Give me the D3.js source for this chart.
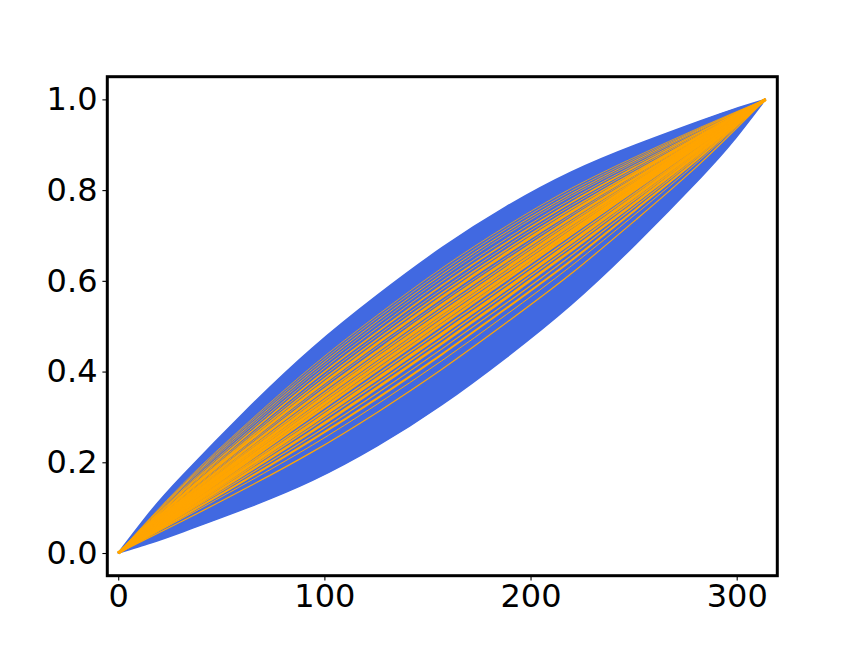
<!DOCTYPE html>
<html><head><meta charset="utf-8">
<script src="https://cdn.jsdelivr.net/npm/d3@7"></script>
<style>body{margin:0;background:#fff}svg{display:block}</style>
</head><body>
<script>
// envelope of the blue family of curves
const envX = [0, 15.7, 31.4, 62.8, 94.2, 125.6, 157, 188.4, 219.8, 251.2, 282.6, 298.3, 314];
const envUpper = [0, 0.092, 0.172, 0.318, 0.452, 0.568, 0.673, 0.764, 0.84, 0.9, 0.953, 0.978, 1.0];
const envLower = [0, 0.022, 0.047, 0.1, 0.16, 0.236, 0.327, 0.432, 0.548, 0.682, 0.828, 0.908, 1.0];

// orange curves sampled at these x positions
const orangeX = [0, 31.4, 62.8, 94.2, 125.6, 157, 188.4, 219.8, 251.2, 282.6, 314];
const orangeCurves = [
  [0, 0.153, 0.287, 0.412, 0.524, 0.628, 0.721, 0.804, 0.874, 0.939, 1],
  [0, 0.150, 0.283, 0.406, 0.518, 0.621, 0.715, 0.798, 0.870, 0.937, 1],
  [0, 0.148, 0.278, 0.400, 0.511, 0.614, 0.708, 0.792, 0.866, 0.935, 1],
  [0, 0.145, 0.273, 0.394, 0.504, 0.607, 0.702, 0.787, 0.862, 0.933, 1],
  [0, 0.141, 0.267, 0.387, 0.496, 0.599, 0.693, 0.780, 0.857, 0.930, 1],
  [0, 0.137, 0.261, 0.379, 0.487, 0.590, 0.685, 0.773, 0.852, 0.928, 1],
  [0, 0.134, 0.255, 0.371, 0.479, 0.581, 0.677, 0.766, 0.847, 0.925, 1],
  [0, 0.130, 0.250, 0.364, 0.471, 0.573, 0.669, 0.759, 0.842, 0.922, 1],
  [0, 0.127, 0.244, 0.356, 0.462, 0.564, 0.661, 0.752, 0.837, 0.920, 1],
  [0, 0.123, 0.238, 0.349, 0.454, 0.555, 0.652, 0.745, 0.832, 0.917, 1],
  [0, 0.119, 0.232, 0.341, 0.445, 0.547, 0.644, 0.738, 0.827, 0.914, 1],
  [0, 0.116, 0.226, 0.333, 0.437, 0.538, 0.636, 0.731, 0.822, 0.912, 1],
  [0, 0.112, 0.220, 0.326, 0.429, 0.529, 0.628, 0.724, 0.817, 0.909, 1],
  [0, 0.109, 0.214, 0.318, 0.420, 0.521, 0.620, 0.717, 0.812, 0.906, 1],
  [0, 0.105, 0.208, 0.311, 0.412, 0.512, 0.611, 0.710, 0.807, 0.904, 1],
  [0, 0.101, 0.202, 0.303, 0.403, 0.503, 0.603, 0.703, 0.802, 0.901, 1],
  [0, 0.098, 0.196, 0.294, 0.393, 0.493, 0.593, 0.694, 0.795, 0.897, 1],
  [0, 0.095, 0.190, 0.286, 0.384, 0.483, 0.583, 0.685, 0.788, 0.893, 1],
  [0, 0.092, 0.184, 0.278, 0.374, 0.472, 0.573, 0.676, 0.781, 0.888, 1],
  [0, 0.088, 0.178, 0.269, 0.364, 0.462, 0.563, 0.667, 0.774, 0.884, 1],
  [0, 0.085, 0.171, 0.259, 0.352, 0.450, 0.551, 0.656, 0.766, 0.879, 1],
  [0, 0.081, 0.164, 0.250, 0.341, 0.438, 0.540, 0.645, 0.758, 0.874, 1],
  [0, 0.077, 0.156, 0.238, 0.328, 0.424, 0.526, 0.633, 0.748, 0.868, 1],
  [0, 0.071, 0.145, 0.223, 0.310, 0.405, 0.508, 0.616, 0.735, 0.860, 1]
];
const orangeWidths = [0.8, 0.8, 1, 0.8, 1, 1.5, 1, 1.5, 2.5, 1, 2.5, 1.5, 3, 2, 3, 2.5, 1.5, 3, 1.5, 2.5, 1.2, 2, 1, 1.2];

const xTicks = [0, 100, 200, 300];
const yTicks = [0.0, 0.2, 0.4, 0.6, 0.8, 1.0];

const W = 864, H = 648;
const mL = 107.3, mR = 777.3, mT = 76.7, mB = 575.7;

const svg = d3.select("body").append("svg").attr("width", W).attr("height", H);
const x = d3.scaleLinear().domain([-5.3, 319.7]).range([mL, mR]);
const y = d3.scaleLinear().domain([-0.05, 1.05]).range([mB, mT]);

const envData = envX.map((v, i) => ({x: v, u: envUpper[i], l: envLower[i]}));
svg.append("path")
  .datum(envData)
  .attr("fill", "#4169E1")
  .attr("stroke", "#4169E1")
  .attr("stroke-width", 1.5)
  .attr("stroke-linejoin", "round")
  .attr("d", d3.area().x(d => x(d.x)).y0(d => y(d.l)).y1(d => y(d.u)).curve(d3.curveNatural));

const line = d3.line().x(d => x(d[0])).y(d => y(d[1])).curve(d3.curveNatural);
orangeCurves.forEach((c, i) => {
  svg.append("path")
    .datum(orangeX.map((v, j) => [v, c[j]]))
    .attr("fill", "none")
    .attr("stroke", "#FFA500")
    .attr("stroke-width", orangeWidths[i])
    .attr("d", line);
});

// axes
const font = "DejaVu Sans, sans-serif";
const xAxis = d3.axisBottom(x).tickValues(xTicks).tickFormat(d3.format("d")).tickSize(4.9).tickPadding(4);
const gx = svg.append("g").attr("transform", `translate(0,${mB})`).call(xAxis);
const yAxis = d3.axisLeft(y).tickValues(yTicks).tickFormat(d3.format(".1f")).tickSize(4.9).tickPadding(4.9);
const gy = svg.append("g").attr("transform", `translate(${mL},0)`).call(yAxis);
[gx, gy].forEach(g => {
  g.select(".domain").remove();
  g.selectAll(".tick line").attr("stroke", "#000").attr("stroke-width", 1.1);
  g.selectAll(".tick text").attr("fill", "#000").style("font-family", font).style("font-size", "32px");
});
gx.selectAll(".tick text").attr("dy", "0.71em");

svg.append("rect")
  .attr("x", mL).attr("y", mT)
  .attr("width", mR - mL).attr("height", mB - mT)
  .attr("fill", "none").attr("stroke", "#000").attr("stroke-width", 3);
</script>
</body></html>
